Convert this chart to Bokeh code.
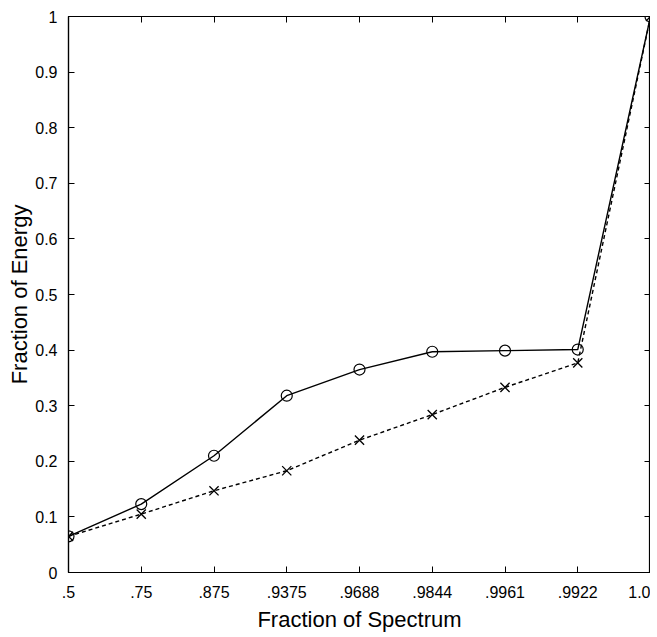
from bokeh.plotting import figure
from bokeh.models import LinearAxis, FixedTicker, Range1d, CustomJSTickFormatter
from bokeh.embed import file_html
from bokeh.resources import INLINE

categories = [".5", ".75", ".875", ".9375", ".9688", ".9844", ".9961", ".9922", "1.0"]
energy_o = [0.065, 0.123, 0.210, 0.318, 0.365, 0.397, 0.399, 0.401, 1.0]
energy_x = [0.065, 0.105, 0.147, 0.183, 0.238, 0.284, 0.333, 0.377, 1.0]
y_ticks = [0, 0.1, 0.2, 0.3, 0.4, 0.5, 0.6, 0.7, 0.8, 0.9, 1.0]
y_labels = ["0", "0.1", "0.2", "0.3", "0.4", "0.5", "0.6", "0.7", "0.8", "0.9", "1"]

xs = list(range(len(categories)))
FONT = "Liberation Sans"

p = figure(width=650, height=634, output_backend="svg", toolbar_location=None,
           x_range=Range1d(0, len(categories) - 1), y_range=Range1d(0, 1),
           min_border_left=68, min_border_right=0, min_border_top=16, min_border_bottom=10)
p.grid.visible = False
p.outline_line_color = "black"
p.outline_line_width = 1.2

p.line(xs, energy_o, line_color="black", line_width=1.4)
p.scatter(xs, energy_o, marker="circle", size=11, fill_color=None, line_color="black", line_width=1.2)
p.line(xs, energy_x, line_color="black", line_width=1.4, line_dash="4 3")
p.scatter(xs, energy_x, marker="x", size=13, line_color="black", line_width=1.3)

xa = p.xaxis[0]
xa.ticker = FixedTicker(ticks=xs)
xa.major_label_overrides = {i: c for i, c in enumerate(categories)}
xa.axis_label = "Fraction of Spectrum"

ya = p.yaxis[0]
ya.ticker = FixedTicker(ticks=y_ticks)
ya.major_label_overrides = {t: l for t, l in zip(y_ticks, y_labels)}
ya.axis_label = "Fraction of Energy"

for ax in (xa, ya):
    ax.major_tick_in = 6
    ax.major_tick_out = 0
    ax.minor_tick_line_color = None
    ax.axis_line_color = "black"
    ax.axis_line_width = 1.2
    ax.major_tick_line_color = "black"
    ax.major_label_text_font = FONT
    ax.major_label_text_font_size = "16px"
    ax.major_label_text_color = "black"
    ax.axis_label_text_font = FONT
    ax.axis_label_text_font_size = "22px"
    ax.axis_label_text_font_style = "normal"
    ax.axis_label_text_color = "black"
xa.major_label_standoff = 13
xa.axis_label_standoff = 6
ya.major_label_standoff = 11
ya.axis_label_standoff = 0

blank = CustomJSTickFormatter(code="return '';")
top = LinearAxis(ticker=FixedTicker(ticks=xs), major_tick_in=6, major_tick_out=0,
                 minor_tick_line_color=None, formatter=blank, major_label_standoff=0,
                 axis_line_color="black")
right = LinearAxis(ticker=FixedTicker(ticks=y_ticks), major_tick_in=6, major_tick_out=0,
                   minor_tick_line_color=None, formatter=blank, major_label_standoff=0,
                   axis_line_color="black")
p.add_layout(top, "above")
p.add_layout(right, "right")

open("out.html", "w").write(file_html(p, INLINE))
